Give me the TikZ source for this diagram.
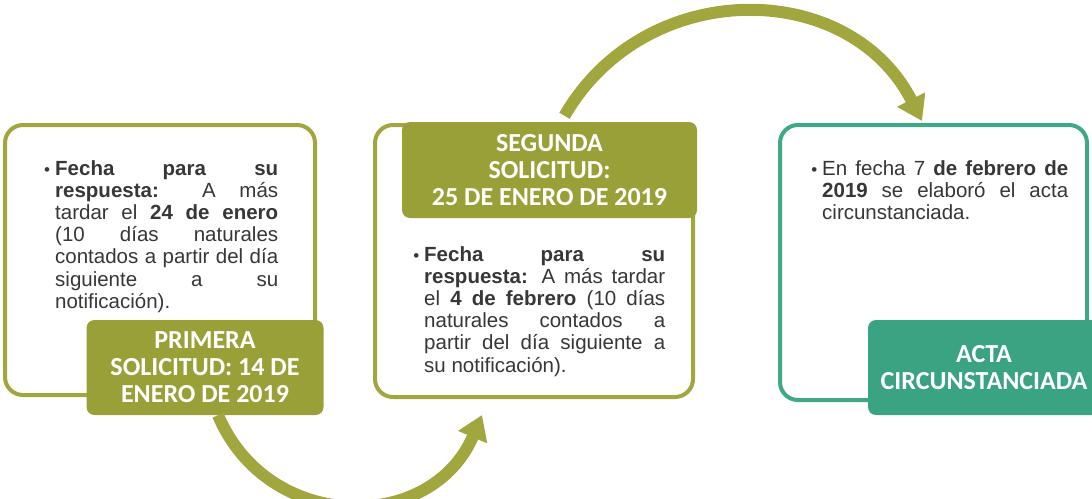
\documentclass[tikz,border=0pt]{standalone}
\usepackage{fontspec}
\setmainfont{Liberation Sans}
\newfontfamily\labelfont{Carlito}
\usepackage{xcolor}
\usetikzlibrary{arrows.meta}

\definecolor{olivebox}{RGB}{162,166,62}
\definecolor{olivelab}{RGB}{154,160,56}
\definecolor{tealbox}{RGB}{62,168,136}
\definecolor{teallab}{RGB}{58,163,130}
\definecolor{bodycol}{RGB}{55,55,55}

\newcommand{\itembullet}{\leavevmode\llap{{\fontsize{17pt}{17pt}\selectfont\textbullet}\hspace{5pt}}}

\tikzset{
    framebox/.style={rectangle, line width=4pt, rounded corners=18pt, inner sep=0pt},
    labelbox/.style={rectangle, rounded corners=8pt, inner sep=0pt, text=white, align=center,
        font=\labelfont\bfseries\fontsize{26pt}{27pt}\selectfont},
    bodybox/.style={anchor=north west, inner sep=0pt, text width=#1, align=justify, text=bodycol,
        font=\fontsize{20.5pt}{22.2pt}\selectfont},
    bigarrow/.style={draw=olivebox, line width=12pt, -{Triangle[width=30pt,length=24pt]}},
}

\begin{document}
\begin{tikzpicture}[x=1pt, y=1pt]

    \useasboundingbox (0, 0) rectangle (1092, -498);
    \fill [white] (0, 0) rectangle (1092, -498);

    % frames
    \node [framebox, draw=olivebox, minimum width=310, minimum height=270] (box1) at (160, -260) {};
    \node [framebox, draw=olivebox, minimum width=318, minimum height=272] (box2) at (534, -261) {};
    \node [framebox, draw=tealbox, minimum width=307, minimum height=275] (box3) at (933.5, -262.5) {};

    % labels
    \node [labelbox, fill=olivelab, minimum width=237, minimum height=95] (lab1) at (205, -367.5)
        {PRIMERA\\ SOLICITUD: 14 DE\\ ENERO DE 2019};
    \node [labelbox, fill=olivelab, minimum width=295, minimum height=96] (lab2) at (549.5, -170)
        {SEGUNDA\\ SOLICITUD:\\ 25 DE ENERO DE 2019};
    \node [labelbox, fill=teallab, minimum width=232, minimum height=95] (lab3) at (984, -367.5)
        {ACTA\\ CIRCUNSTANCIADA};

    % texts
    \node [bodybox=223pt] (txt1) at (55, -160) {\itembullet\textbf{Fecha para su}\linebreak
        \textbf{respuesta:} A más\linebreak
        tardar el \textbf{24 de enero}\linebreak
        (10 días naturales\linebreak
        contados a partir del día\linebreak
        siguiente a su\linebreak
        notificación).};
    \node [bodybox=241pt] (txt2) at (424, -246) {\itembullet\textbf{Fecha para su}\linebreak
        \textbf{respuesta:} A más tardar\linebreak
        el \textbf{4 de febrero} (10 días\linebreak
        naturales contados a\linebreak
        partir del día siguiente a\linebreak
        su notificación).};
    \node [bodybox=246pt] (txt3) at (822, -160) {\itembullet En fecha 7 \textbf{de febrero de}\linebreak
        \textbf{2019} se elaboró el acta\linebreak
        circunstanciada.};

    % arrows
    \coordinate (endA) at (482, -415);
    \coordinate (endB) at (922, -121);
    \draw [bigarrow] ([xshift=13pt]lab1.south) to[out=-67, in=247, looseness=1.25] (endA);
    \draw [bigarrow] ([xshift=15pt, yshift=6pt]lab2.north) to[out=60, in=117, looseness=1.15] (endB);

\end{tikzpicture}
\end{document}
